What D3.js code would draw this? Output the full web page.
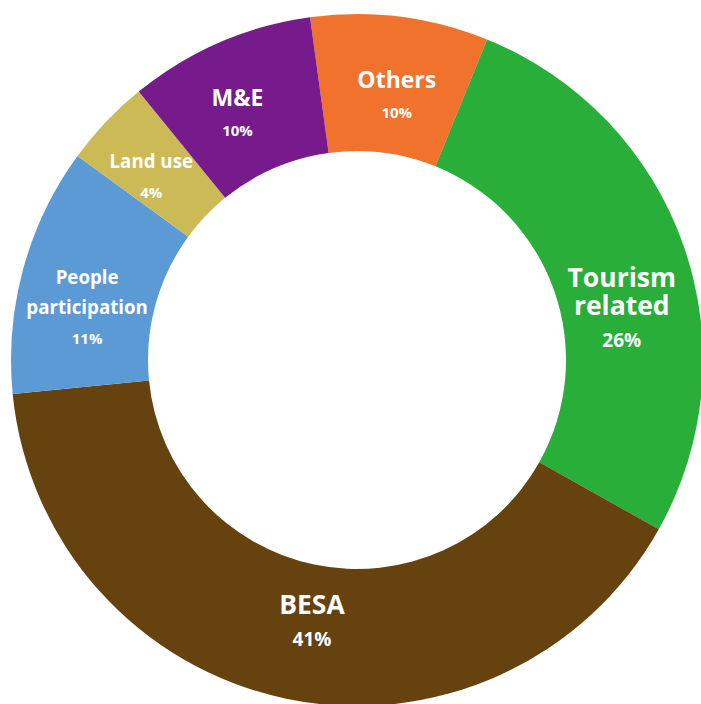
<!DOCTYPE html>
<html>
<head>
<meta charset="utf-8">
<script src="https://cdn.jsdelivr.net/npm/d3@7"></script>
<style>
  body { margin: 0; background: #fff; }
  svg { display: block; }
  text { font-family: "Open Sans", Lato, sans-serif; font-weight: 700; fill: #fff; }
</style>
</head>
<body>
<script>
// slice order runs clockwise, starting just left of 12 o'clock
const categories = ["Others", "Tourism related", "BESA", "People participation", "Land use", "M&E"];
const values = [8.3, 27.0, 40.3, 11.6, 4.1, 8.7];          // slice shares as drawn
const pctLabels = ["10%", "26%", "41%", "11%", "4%", "10%"]; // percentages as printed
const colors = ["#f1722c", "#28ae39", "#66420e", "#5b9ad5", "#cbba56", "#761a8c"];

const width = 701, height = 704;
const cx = 357, cy = 360;
const outerR = 346, innerR = 209;
const startDeg = -7.8;

// label layout: which lines, size tier, small nudges (degrees, px)
const labelLines = [["Others"], ["Tourism", "related"], ["BESA"], ["People", "participation"], ["Land use"], ["M&E"]];
const tier = [1, 2, 2, 0, 0, 1];
const nudgeAngle = [1.4, 8, -2, -4.2, -1.7, -2.3];
const nudgeR = [-3, -1, -7, 4, 5, 4];
const tiers = {
  name: [18.7, 23, 26.5],
  pct: [15, 15, 19],
  lh: [30, 30, 28],
  gap: [30, 30, 32]
};

const data = categories.map((c, i) => ({ name: c, value: values[i], pct: pctLabels[i] }));

const svg = d3.select("body")
  .append("svg")
  .attr("width", width)
  .attr("height", height);

const g = svg.append("g")
  .attr("transform", `translate(${cx},${cy})`);

const pie = d3.pie()
  .sort(null)
  .value(d => d.value)
  .startAngle(startDeg * Math.PI / 180)
  .endAngle((startDeg + 360) * Math.PI / 180);

const arc = d3.arc()
  .innerRadius(innerR)
  .outerRadius(outerR);

const arcs = pie(data);

g.selectAll("path.slice")
  .data(arcs)
  .enter()
  .append("path")
  .attr("class", "slice")
  .attr("d", arc)
  .attr("fill", (d, i) => colors[i]);

// labels sit near the middle of the ring
const labelR = 271;
const labels = g.selectAll("g.label")
  .data(arcs)
  .enter()
  .append("g")
  .attr("class", "label")
  .attr("transform", d => {
    const a = (d.startAngle + d.endAngle) / 2 + nudgeAngle[d.index] * Math.PI / 180;
    const r = labelR + nudgeR[d.index];
    return `translate(${Math.sin(a) * r},${-Math.cos(a) * r})`;
  });

labels.each(function (d) {
  const t = tier[d.index];
  const size = tiers.name[t];
  const cap = size * 0.72;
  const lines = labelLines[d.index];
  const span = cap + (lines.length - 1) * tiers.lh[t] + tiers.gap[t];
  const b0 = -span / 2 + cap;
  const sel = d3.select(this);

  const name = sel.append("text")
    .attr("text-anchor", "middle")
    .attr("y", b0)
    .style("font-size", size + "px");
  lines.forEach((ln, k) => {
    name.append("tspan")
      .attr("x", 0)
      .attr("dy", k === 0 ? 0 : tiers.lh[t])
      .text(ln);
  });

  sel.append("text")
    .attr("text-anchor", "middle")
    .attr("y", b0 + (lines.length - 1) * tiers.lh[t] + tiers.gap[t])
    .style("font-size", tiers.pct[t] + "px")
    .text(d.data.pct);
});
</script>
</body>
</html>
